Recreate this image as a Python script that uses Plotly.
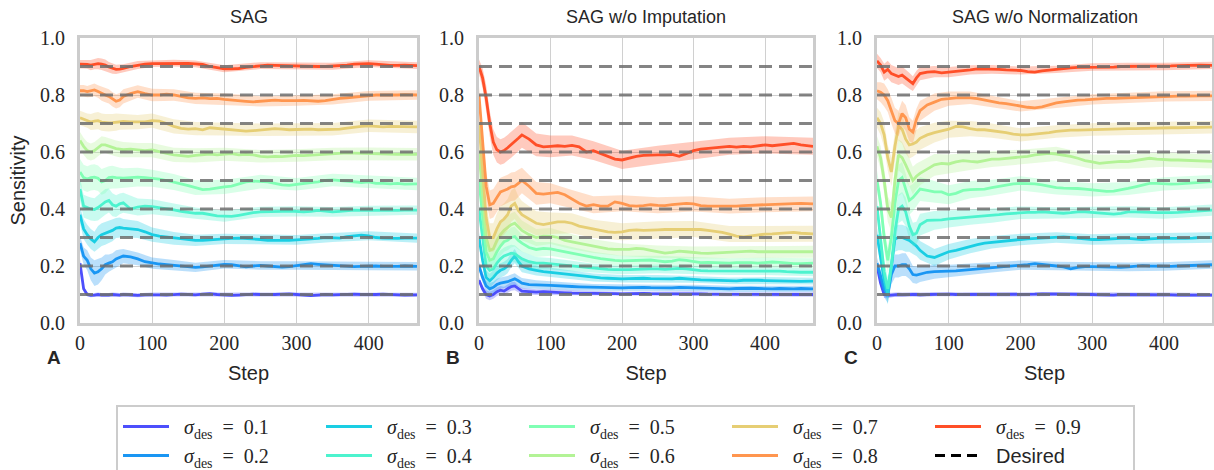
import numpy as np
import plotly.graph_objects as go

# ---------------- data ----------------
STEPS = [0, 5, 10, 15, 20, 25, 30, 35, 40, 45, 50, 55] + list(range(60, 460, 10)) + [467]
BAND_STEPS = [0, 5, 10, 15, 20, 25, 30, 35, 40, 45, 50, 55, 60,
              80, 100, 130, 160, 200, 250, 300, 350, 400, 467]
SIGMAS = [0.1, 0.2, 0.3, 0.4, 0.5, 0.6, 0.7, 0.8, 0.9]
X_TICKS = [0, 100, 200, 300, 400]
Y_TICKS = [0.0, 0.2, 0.4, 0.6, 0.8, 1.0]
PANEL_TITLES = ["SAG", "SAG w/o Imputation", "SAG w/o Normalization"]
PANEL_LETTERS = ["A", "B", "C"]

# ---- Panel A : SAG ----
A_01 = [.21, .12, .10, .097, .098, .10, .098, .097, .098, .10, .099, .098,
        .10, .098, .097, .099, .10, .099, .098, .10, .101, .10,
        .099, .101, .103, .10, .098, .097, .098, .10, .101, .10,
        .099, .10, .101, .102, .10, .097, .096, .098, .10, .099,
        .10, .10, .101, .10, .099, .10, .101, .10, .099, .098,
        .099]
A_02 = [.28, .235, .22, .19, .175, .18, .19, .205, .21, .215, .225, .23,
        .235, .232, .225, .215, .21, .207, .205, .203, .20, .198,
        .195, .197, .20, .203, .206, .205, .20, .197, .20, .202,
        .20, .197, .196, .198, .202, .205, .208, .206, .204, .202,
        .20, .199, .198, .199, .20, .20, .199, .198, .199, .20,
        .199]
A_03 = [.38, .33, .31, .295, .285, .30, .31, .315, .32, .325, .333, .335,
        .333, .33, .328, .32, .31, .305, .302, .297, .295, .293,
        .29, .29, .292, .295, .295, .297, .298, .297, .296, .293,
        .29, .29, .288, .29, .292, .293, .295, .297, .30, .30,
        .298, .303, .306, .308, .306, .30, .298, .297, .297, .298,
        .298]
A_04 = [.47, .41, .405, .40, .398, .405, .415, .425, .43, .415, .41, .418,
        .422, .40, .407, .41, .408, .405, .40, .397, .392, .388,
        .385, .385, .38, .376, .375, .374, .378, .383, .387, .39,
        .39, .39, .392, .393, .392, .39, .392, .395, .393, .39,
        .392, .395, .396, .395, .394, .395, .396, .395, .395, .396,
        .396]
A_05 = [.53, .51, .505, .51, .512, .508, .495, .50, .51, .512, .51, .509,
        .508, .51, .512, .51, .508, .505, .50, .495, .488, .482,
        .475, .468, .47, .475, .478, .48, .488, .495, .498, .496,
        .495, .49, .485, .483, .487, .49, .493, .495, .50, .502,
        .50, .498, .495, .493, .495, .49, .49, .488, .49, .487,
        .488]
A_06 = [.64, .62, .605, .60, .605, .615, .625, .625, .62, .615, .612, .61,
        .608, .61, .607, .605, .607, .60, .595, .59, .588, .585,
        .588, .59, .593, .59, .592, .594, .59, .592, .59, .585,
        .583, .585, .584, .586, .588, .587, .589, .59, .592, .593,
        .595, .597, .596, .595, .594, .595, .593, .592, .592, .593,
        .592]
A_07 = [.72, .715, .71, .705, .708, .71, .705, .703, .702, .703, .705, .706,
        .707, .706, .705, .706, .71, .708, .70, .69, .683, .68,
        .682, .678, .685, .683, .68, .677, .675, .673, .675, .678,
        .68, .682, .68, .678, .679, .68, .68, .678, .679, .68,
        .68, .684, .688, .69, .692, .69, .688, .69, .69, .689,
        .688]
A_08 = [.815, .815, .812, .815, .818, .812, .805, .80, .795, .785, .778, .782,
        .795, .805, .812, .805, .80, .80, .803, .80, .795, .79,
        .788, .79, .787, .788, .785, .782, .78, .778, .776, .778,
        .78, .782, .78, .779, .78, .781, .779, .778, .78, .785,
        .788, .79, .793, .795, .797, .80, .80, .799, .80, .801,
        .80]
A_09 = [.908, .908, .907, .905, .908, .91, .908, .905, .898, .893, .89, .891,
        .893, .90, .905, .908, .91, .91, .911, .912, .91, .911,
        .909, .907, .90, .895, .892, .892, .893, .897, .899, .903,
        .905, .904, .903, .903, .901, .901, .90, .90, .90, .901,
        .902, .905, .908, .91, .91, .908, .905, .904, .904, .905,
        .903]

# ---- Panel B : SAG w/o Imputation ----
B_01 = [.15, .12, .10, .095, .10, .11, .115, .112, .12, .128, .13, .12,
        .112, .11, .108, .11, .108, .107, .106, .105, .105, .104,
        .104, .103, .103, .103, .102, .103, .104, .104, .103, .103,
        .102, .103, .104, .104, .103, .102, .101, .101, .10, .10,
        .101, .102, .102, .101, .101, .10, .10, .101, .10, .10,
        .10]
B_02 = [.20, .16, .13, .12, .125, .135, .14, .142, .145, .15, .155, .148,
        .14, .135, .135, .133, .132, .13, .13, .128, .127, .126,
        .125, .125, .124, .124, .123, .124, .125, .125, .124, .123,
        .122, .123, .125, .124, .123, .122, .121, .12, .12, .12,
        .121, .122, .122, .121, .12, .12, .121, .12, .12, .121,
        .12]
B_03 = [.30, .22, .16, .148, .16, .175, .185, .19, .20, .22, .235, .215,
        .20, .19, .185, .18, .178, .175, .172, .168, .165, .163,
        .16, .158, .157, .155, .155, .156, .157, .157, .156, .155,
        .154, .155, .157, .156, .153, .151, .15, .15, .149, .148,
        .148, .15, .151, .15, .149, .148, .148, .147, .146, .146,
        .147]
B_04 = [.40, .29, .20, .185, .19, .21, .225, .235, .24, .245, .243, .235,
        .225, .215, .21, .21, .208, .205, .203, .20, .198, .195,
        .192, .19, .188, .187, .186, .187, .188, .19, .19, .19,
        .188, .19, .192, .19, .186, .184, .183, .183, .182, .182,
        .183, .184, .183, .182, .182, .183, .182, .18, .178, .178,
        .178]
B_05 = [.50, .37, .25, .22, .225, .25, .27, .285, .29, .30, .303, .29,
        .28, .265, .258, .262, .26, .255, .25, .245, .238, .233,
        .23, .226, .222, .22, .218, .219, .22, .222, .221, .218,
        .215, .217, .222, .22, .215, .212, .213, .212, .21, .21,
        .212, .213, .212, .21, .212, .214, .213, .21, .208, .208,
        .21]
B_06 = [.60, .45, .30, .255, .26, .29, .31, .325, .335, .345, .35, .338,
        .325, .31, .30, .305, .305, .30, .29, .285, .28, .275,
        .27, .265, .26, .258, .257, .258, .262, .26, .255, .25,
        .245, .248, .252, .25, .247, .245, .244, .245, .247, .248,
        .25, .25, .252, .25, .25, .25, .252, .25, .25, .252,
        .25]
B_07 = [.70, .55, .37, .30, .30, .33, .355, .365, .38, .41, .42, .395,
        .38, .365, .35, .345, .35, .355, .355, .35, .34, .335,
        .33, .325, .32, .318, .32, .325, .327, .325, .325, .327,
        .328, .328, .328, .33, .33, .328, .325, .322, .318, .312,
        .305, .302, .305, .31, .312, .313, .315, .318, .318, .315,
        .313]
B_08 = [.80, .65, .48, .415, .42, .44, .46, .465, .47, .478, .48, .49,
        .50, .48, .455, .452, .455, .458, .45, .435, .42, .41,
        .415, .41, .41, .425, .42, .412, .41, .412, .415, .413,
        .412, .415, .418, .42, .418, .412, .41, .41, .408, .41,
        .41, .412, .413, .415, .415, .417, .418, .418, .42, .42,
        .418]
B_09 = [.90, .86, .79, .70, .635, .608, .60, .605, .615, .625, .635, .648,
        .66, .645, .625, .618, .62, .622, .62, .623, .618, .60,
        .605, .595, .585, .575, .572, .578, .585, .588, .59, .59,
        .59, .592, .585, .595, .605, .61, .612, .615, .618, .62,
        .617, .62, .618, .622, .625, .622, .625, .628, .63, .625,
        .62]

# ---- Panel C : SAG w/o Normalization ----
C_01 = [.20, .14, .10, .097, .098, .10, .10, .099, .10, .101, .10, .10,
        .099, .10, .101, .102, .101, .10, .10, .099, .10, .101,
        .10, .10, .099, .099, .10, .10, .101, .102, .102, .102,
        .101, .10, .10, .101, .10, .099, .098, .098, .10, .10,
        .101, .10, .10, .10, .10, .099, .098, .098, .097, .097,
        .098]
C_02 = [.21, .16, .12, .10, .17, .20, .20, .205, .205, .19, .17, .168,
        .172, .178, .18, .18, .182, .183, .185, .188, .19, .193,
        .195, .197, .198, .20, .203, .205, .208, .206, .203, .20,
        .197, .19, .195, .198, .198, .197, .196, .195, .195, .197,
        .20, .201, .20, .199, .198, .199, .20, .201, .203, .205,
        .205]
C_03 = [.31, .23, .15, .10, .20, .295, .30, .30, .295, .29, .28, .27,
        .255, .235, .23, .24, .25, .255, .262, .27, .275, .28,
        .283, .285, .287, .29, .293, .295, .296, .297, .298, .30,
        .302, .30, .297, .295, .293, .293, .295, .296, .297, .297,
        .295, .293, .295, .297, .298, .297, .296, .297, .298, .30,
        .30]
C_04 = [.41, .30, .18, .12, .20, .32, .40, .41, .39, .34, .31, .315,
        .345, .36, .36, .362, .365, .367, .37, .372, .372, .375,
        .377, .38, .383, .385, .387, .388, .388, .39, .388, .386,
        .385, .387, .39, .39, .388, .385, .383, .382, .385, .39,
        .39, .39, .388, .387, .386, .387, .388, .39, .393, .395,
        .396]
C_05 = [.50, .42, .30, .22, .30, .42, .50, .51, .47, .43, .44, .455,
        .47, .465, .46, .46, .45, .455, .465, .468, .468, .47,
        .475, .48, .485, .488, .49, .49, .488, .485, .48, .475,
        .473, .473, .472, .47, .467, .463, .462, .463, .467, .472,
        .478, .485, .49, .49, .488, .487, .488, .49, .492, .495,
        .496]
C_06 = [.62, .58, .50, .40, .37, .50, .59, .58, .555, .53, .50, .515,
        .525, .54, .555, .56, .558, .565, .57, .567, .565, .57,
        .575, .575, .577, .58, .582, .585, .59, .593, .595, .593,
        .59, .585, .578, .57, .565, .56, .563, .566, .567, .566,
        .57, .575, .578, .575, .573, .572, .572, .571, .57, .568,
        .567]
C_07 = [.72, .70, .66, .58, .53, .62, .69, .68, .645, .625, .628, .635,
        .648, .66, .668, .675, .68, .69, .688, .682, .678, .678,
        .675, .672, .668, .663, .66, .66, .662, .665, .668, .672,
        .675, .677, .677, .678, .679, .679, .68, .68, .681, .682,
        .682, .683, .683, .683, .684, .685, .685, .686, .686, .687,
        .687]
C_08 = [.815, .81, .80, .78, .745, .71, .70, .735, .72, .68, .67, .715,
        .745, .765, .775, .785, .787, .79, .79, .79, .787, .782,
        .777, .772, .77, .765, .76, .757, .755, .758, .765, .772,
        .776, .78, .782, .783, .785, .787, .788, .788, .789, .79,
        .792, .793, .793, .794, .795, .795, .796, .796, .797, .797,
        .797]
C_09 = [.92, .905, .88, .89, .875, .87, .865, .87, .86, .85, .84, .86,
        .875, .88, .882, .878, .88, .882, .885, .888, .892, .892,
        .89, .89, .888, .887, .886, .882, .88, .885, .888, .89,
        .893, .895, .897, .897, .898, .898, .897, .898, .90, .90,
        .902, .902, .90, .90, .90, .902, .903, .904, .905, .905,
        .904]

# ---- half-width of the shaded bands (thousandths), at BAND_STEPS ----
A_BAND = [
    [15, 8, 7, 7, 7, 7, 7, 7, 7, 7, 7, 7, 7, 7, 7, 7, 7, 7, 7, 7, 7, 7, 7],
    [25, 30, 35, 40, 45, 45, 40, 35, 30, 30, 30, 28, 25, 22, 20, 18, 16, 15, 15, 15, 15, 15, 15],
    [30, 35, 35, 35, 35, 40, 40, 40, 40, 38, 35, 35, 32, 30, 25, 22, 20, 18, 17, 17, 16, 16, 16],
    [40, 40, 40, 40, 40, 45, 45, 45, 42, 40, 38, 36, 35, 30, 26, 22, 20, 20, 18, 18, 17, 17, 16],
    [45, 45, 45, 45, 45, 45, 45, 45, 40, 40, 38, 36, 35, 33, 30, 28, 26, 25, 24, 22, 22, 22, 22],
    [30, 30, 30, 30, 30, 30, 30, 28, 28, 28, 28, 28, 27, 25, 25, 25, 25, 23, 22, 22, 22, 22, 22],
    [25, 25, 25, 28, 30, 30, 30, 30, 30, 30, 30, 28, 27, 25, 25, 25, 23, 22, 22, 22, 22, 22, 22],
    [20, 20, 20, 22, 22, 22, 25, 25, 25, 25, 25, 25, 25, 22, 22, 20, 20, 20, 18, 18, 18, 17, 17],
    [15, 15, 15, 18, 18, 20, 20, 20, 18, 18, 16, 16, 15, 14, 12, 12, 12, 12, 12, 12, 12, 12, 12],
]
B_BAND = [
    [10, 12, 15, 15, 15, 15, 15, 15, 15, 15, 15, 12, 12, 10, 10, 9, 8, 8, 8, 8, 8, 8, 8],
    [15, 18, 20, 20, 20, 20, 20, 20, 20, 20, 20, 18, 18, 15, 14, 13, 12, 12, 11, 11, 11, 11, 11],
    [20, 22, 25, 25, 25, 25, 25, 25, 25, 25, 25, 22, 22, 18, 16, 15, 14, 13, 13, 12, 12, 12, 12],
    [20, 25, 30, 30, 30, 30, 30, 30, 30, 30, 30, 28, 26, 22, 20, 18, 16, 15, 15, 14, 14, 14, 14],
    [25, 30, 35, 35, 35, 35, 35, 35, 35, 35, 35, 32, 30, 26, 24, 22, 20, 18, 18, 17, 17, 17, 17],
    [30, 35, 40, 40, 40, 40, 40, 40, 40, 40, 40, 38, 35, 30, 28, 26, 24, 22, 22, 21, 21, 21, 21],
    [30, 40, 50, 50, 50, 55, 55, 55, 55, 55, 55, 50, 48, 42, 38, 35, 32, 30, 30, 28, 28, 28, 28],
    [30, 40, 50, 50, 50, 50, 50, 50, 50, 50, 50, 48, 45, 40, 35, 32, 30, 28, 28, 27, 26, 26, 26],
    [25, 35, 45, 45, 45, 45, 45, 45, 45, 45, 45, 45, 45, 40, 38, 35, 33, 32, 32, 30, 30, 30, 30],
]
C_BAND = [
    [12, 12, 12, 10, 8, 8, 8, 8, 8, 8, 8, 8, 8, 7, 7, 7, 7, 7, 7, 7, 7, 7, 7],
    [20, 25, 30, 30, 35, 40, 40, 40, 40, 35, 30, 30, 28, 25, 22, 20, 18, 16, 15, 15, 15, 15, 15],
    [25, 30, 35, 35, 40, 45, 45, 45, 45, 40, 38, 35, 33, 30, 27, 25, 22, 20, 18, 18, 18, 18, 18],
    [30, 35, 40, 40, 45, 50, 50, 50, 50, 45, 42, 40, 38, 33, 30, 27, 25, 22, 20, 20, 20, 20, 20],
    [35, 40, 45, 45, 50, 55, 55, 55, 55, 50, 48, 45, 42, 38, 33, 30, 28, 25, 24, 23, 23, 23, 23],
    [35, 40, 45, 45, 50, 55, 55, 55, 55, 50, 48, 45, 42, 38, 33, 30, 28, 26, 25, 25, 25, 25, 25],
    [35, 40, 45, 45, 50, 50, 50, 50, 50, 48, 45, 42, 40, 35, 30, 27, 25, 23, 22, 22, 22, 22, 22],
    [30, 35, 40, 40, 45, 45, 45, 45, 45, 42, 40, 38, 35, 30, 25, 22, 20, 18, 18, 18, 18, 18, 18],
    [25, 25, 30, 30, 30, 30, 30, 30, 30, 28, 26, 25, 23, 20, 18, 16, 15, 14, 13, 13, 13, 13, 13],
]

PANEL_A = [A_01, A_02, A_03, A_04, A_05, A_06, A_07, A_08, A_09]
PANEL_B = [B_01, B_02, B_03, B_04, B_05, B_06, B_07, B_08, B_09]
PANEL_C = [C_01, C_02, C_03, C_04, C_05, C_06, C_07, C_08, C_09]

# ---------------- styles ----------------
LINE_COLORS = ["#4d4ffc", "#1a96f3", "#1acee3", "#4df3ce", "#80ffb4",
               "#b3f396", "#e6ce74", "#ff964f", "#ff4f28"]
SANS = "Liberation Sans"
SERIF = "Liberation Serif"
TXT = "#262626"
FRAME = "#cccccc"
GRID = "#d0d0d0"
W, H = 1214, 470
PLOT_TOP, PLOT_BOTTOM = 38, 323
PANEL_PX = [(80, 417), (479, 813), (877, 1212)]


def rgba(hex_color, a):
    h = hex_color.lstrip("#")
    return "rgba(%d,%d,%d,%.2f)" % (int(h[0:2], 16), int(h[2:4], 16), int(h[4:6], 16), a)


band_idx = [STEPS.index(s) for s in BAND_STEPS]

fig = go.Figure()
panels = [(PANEL_A, A_BAND), (PANEL_B, B_BAND), (PANEL_C, C_BAND)]
for p, (series, bands) in enumerate(panels):
    xa = "x" if p == 0 else "x%d" % (p + 1)
    ya = "y" if p == 0 else "y%d" % (p + 1)
    for i, sig in enumerate(SIGMAS):
        vals = np.array(series[i], dtype=float)
        assert len(vals) == len(STEPS), (p, i, len(vals))
        hw = np.array(bands[i], dtype=float) / 1000.0
        assert len(hw) == len(BAND_STEPS), (p, i, len(hw))
        vb = vals[band_idx]
        upper = list(vb + hw)
        lower = list(vb - hw)
        fig.add_trace(go.Scatter(
            x=BAND_STEPS + BAND_STEPS[::-1], y=upper + lower[::-1],
            fill="toself", fillcolor=rgba(LINE_COLORS[i], 0.30),
            line=dict(width=0), mode="lines", hoverinfo="skip",
            showlegend=False, xaxis=xa, yaxis=ya))
        rank = (i % 2) * 5 + i // 2
        fig.add_trace(go.Scatter(
            x=STEPS, y=vals, mode="lines",
            line=dict(color=LINE_COLORS[i], width=2.8),
            name="\u2002<i>σ</i><sub>des</sub>\u2002=\u2002%.1f" % sig,
            legendrank=rank, showlegend=(p == 0),
            xaxis=xa, yaxis=ya))
    for sig in SIGMAS:
        fig.add_trace(go.Scatter(
            x=[STEPS[0], STEPS[-1]], y=[sig, sig], mode="lines",
            line=dict(color="rgba(110,110,110,0.85)", width=3, dash="13px,7px"),
            showlegend=False, hoverinfo="skip", xaxis=xa, yaxis=ya))

# legend entry for the desired level
fig.add_trace(go.Scatter(
    x=[None], y=[None], mode="lines",
    name="\u2002<span style=\"font-family:'Liberation Sans'\">Desired</span>",
    line=dict(color="black", width=3, dash="10px,6px"),
    legendrank=9, showlegend=True))

layout = dict(
    width=W, height=H,
    margin=dict(l=0, r=0, t=0, b=0, autoexpand=False),
    paper_bgcolor="white", plot_bgcolor="white",
    showlegend=True,
    legend=dict(
        orientation="h", x=116 / W, xanchor="left", y=1 - 405 / H, yanchor="top",
        bordercolor=FRAME, borderwidth=2, bgcolor="white",
        font=dict(family=SERIF, size=20, color=TXT),
        itemwidth=46, entrywidth=142, entrywidthmode="pixels",
        traceorder="normal",
    ),
)
ydom = [1 - PLOT_BOTTOM / H, 1 - PLOT_TOP / H]
annotations = []
for p in range(3):
    x0, x1 = PANEL_PX[p]
    key_x = "xaxis" if p == 0 else "xaxis%d" % (p + 1)
    key_y = "yaxis" if p == 0 else "yaxis%d" % (p + 1)
    yname = "y" if p == 0 else "y%d" % (p + 1)
    xname = "x" if p == 0 else "x%d" % (p + 1)
    layout[key_x] = dict(
        domain=[x0 / W, x1 / W], anchor=yname,
        range=[STEPS[0], STEPS[-1]], tickvals=X_TICKS,
        ticktext=[str(t) for t in X_TICKS],
        showgrid=True, gridcolor=GRID, gridwidth=1.3,
        showline=True, mirror=True, linecolor=FRAME, linewidth=3,
        ticks="", zeroline=False, automargin=False,
        tickfont=dict(family=SERIF, size=20, color=TXT),
        ticklabelstandoff=0,
        title=dict(text="Step", font=dict(family=SANS, size=20, color=TXT), standoff=13),
    )
    layout[key_y] = dict(
        domain=ydom, anchor=xname,
        range=[0, 1], tickvals=Y_TICKS,
        ticktext=["%.1f" % t for t in Y_TICKS],
        showgrid=True, gridcolor=GRID, gridwidth=1.3,
        showline=True, mirror=True, linecolor=FRAME, linewidth=3,
        ticks="", zeroline=False, automargin=False,
        tickfont=dict(family=SERIF, size=20, color=TXT),
        ticklabelstandoff=8,
    )
    if p == 0:
        layout[key_y]["title"] = dict(text="Sensitivity",
                                      font=dict(family=SANS, size=20, color=TXT), standoff=10)
    annotations.append(dict(
        text=PANEL_TITLES[p], x=(x0 + x1) / 2 / W, y=1 - 17 / H,
        xref="paper", yref="paper", xanchor="center", yanchor="middle",
        showarrow=False, font=dict(family=SANS, size=18, color=TXT)))
    annotations.append(dict(
        text="<b>%s</b>" % PANEL_LETTERS[p], x=(x0 - 26) / W, y=1 - 357 / H,
        xref="paper", yref="paper", xanchor="center", yanchor="middle",
        showarrow=False, font=dict(family=SANS, size=19, color=TXT)))
layout["annotations"] = annotations
fig.update_layout(**layout)

fig.write_html("out.html", config={"displayModeBar": False},
               post_script="document.body.style.margin='0px';")
